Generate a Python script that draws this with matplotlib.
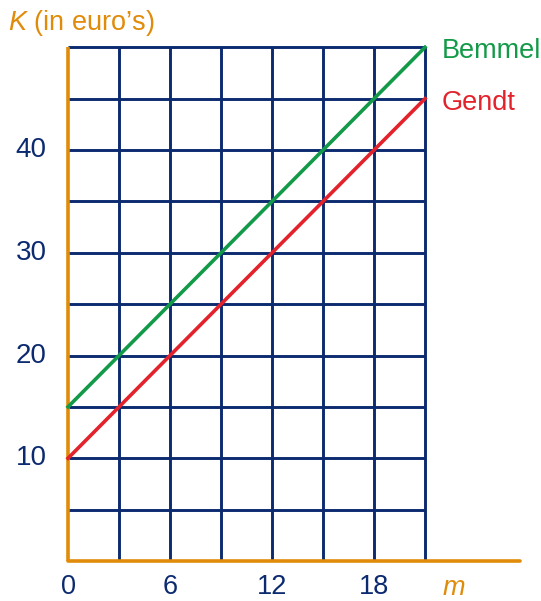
import matplotlib.pyplot as plt

plt.rcParams['font.family'] = ['Liberation Sans', 'DejaVu Sans']
plt.rcParams['mathtext.fontset'] = 'custom'
plt.rcParams['mathtext.it'] = 'Liberation Sans:italic'
plt.rcParams['mathtext.rm'] = 'Liberation Sans'

# data
m = [0, 3, 6, 9, 12, 15, 18, 21]
bemmel = [15, 20, 25, 30, 35, 40, 45, 50]
gendt = [10, 15, 20, 25, 30, 35, 40, 45]
x_grid = [3, 6, 9, 12, 15, 18, 21]
y_grid = [5, 10, 15, 20, 25, 30, 35, 40, 45, 50]
x_ticks = [0, 6, 12, 18]
y_ticks = [10, 20, 30, 40]

navy = '#0b2a6f'
orange = '#e08b0a'
green = '#139a48'
red = '#e3222b'

fig = plt.figure(figsize=(5.41, 6.01), dpi=100)
ax = fig.add_axes([0, 0, 1, 1])
ax.set_xlim(-4.0, 27.82)
ax.set_ylim(-3.89, 54.6)
ax.axis('off')

# grid
for x in x_grid:
    ax.plot([x, x], [0, 50], color=navy, lw=2.1, solid_capstyle='butt')
for y in y_grid:
    ax.plot([0, 21], [y, y], color=navy, lw=2.1, solid_capstyle='butt')

# axes
ax.plot([0, 0], [0, 50], color=orange, lw=2.6, solid_capstyle='butt')
ax.plot([0, 26.6], [0, 0], color=orange, lw=2.6, solid_capstyle='round')

# lines
ax.plot(m, bemmel, color=green, lw=2.6)
ax.plot(m, gendt, color=red, lw=2.6)

# labels
for t in x_ticks:
    ax.text(t, -2.55, str(t), color=navy, fontsize=19.5, ha='center', va='center')
for t in y_ticks:
    ax.text(-2.18, t, str(t), color=navy, fontsize=20, ha='center', va='center')

ax.text(22.7, -2.6, r'$m$', color=orange, fontsize=19.5, ha='center', va='center')
ax.text(-3.53, 52.4, r'$K$ (in euro’s)', color=orange, fontsize=19.5, ha='left', va='center')
ax.text(22.0, 49.6, 'Bemmel', color=green, fontsize=19.5, ha='left', va='center')
ax.text(22.0, 44.6, 'Gendt', color=red, fontsize=19.5, ha='left', va='center')

plt.savefig('out.png', dpi=100)
